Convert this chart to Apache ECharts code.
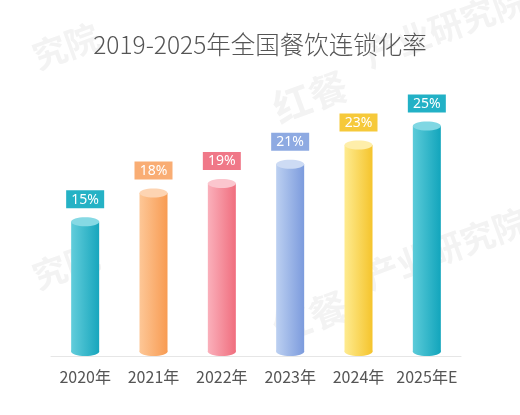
<!DOCTYPE html>
<html>
<head>
<meta charset="utf-8">
<script src="https://cdn.jsdelivr.net/npm/echarts@6/dist/echarts.min.js"></script>
<style>
  html, body { margin: 0; padding: 0; background: #fff; }
  #chart { width: 520px; height: 415px; }
</style>
</head>
<body>
<div id="chart"></div>
<script>
// 数据
var years = ['2020年', '2021年', '2022年', '2023年', '2024年', '2025年E'];
var rates = [15, 18, 19, 21, 23, 25];

// 每根柱子的配色：左侧、右侧、顶面、标签底色
var palette = [
    ['#62cddb', '#17a6bd', '#86d9e4', '#25b2c5'],
    ['#fdc797', '#f89b52', '#fdd4b2', '#f9ad74'],
    ['#fab0bb', '#f06e7e', '#fbc6ce', '#f07888'],
    ['#bcd0f1', '#7c9bdd', '#cddbf4', '#8eaae2'],
    ['#feeb90', '#f5c42c', '#feeeaa', '#f6c93a'],
    ['#5ccbd9', '#12a5bc', '#80d7e3', '#22b1c6']
];

var yMin = 1;

function renderCylinder(params, api) {
    var i = api.value(0);
    var v = api.value(1);
    var top = api.coord([i, v]);
    var base = api.coord([i, yMin]);
    var w = 28, rx = w / 2, ry = 4.5;
    var c = palette[i];
    var side = new echarts.graphic.LinearGradient(0, 0, 1, 0, [
        { offset: 0, color: c[0] },
        { offset: 1, color: c[1] }
    ]);
    var boxTop = top[1] - ry - 9 - 18;
    return {
        type: 'group',
        children: [
            { type: 'rect', shape: { x: top[0] - rx, y: top[1], width: w, height: base[1] - ry - top[1] }, style: { fill: side } },
            { type: 'ellipse', shape: { cx: top[0], cy: base[1] - ry, rx: rx, ry: ry }, style: { fill: side } },
            { type: 'ellipse', shape: { cx: top[0], cy: top[1], rx: rx, ry: ry }, style: { fill: c[2] } },
            { type: 'rect', shape: { x: top[0] - 19, y: boxTop, width: 38, height: 18 }, style: { fill: c[3] } },
            { type: 'text', style: { text: v + '%', x: top[0], y: boxTop + 9.5, align: 'center', verticalAlign: 'middle', fill: '#ffffff', fontSize: 14, fontFamily: 'Noto Sans' } }
        ]
    };
}

function mark(text, x, y, size) {
    return {
        type: 'text', x: x, y: y, rotation: 20 * Math.PI / 180, z: -10,
        style: { text: text, fill: '#f3f3f3', fontSize: size, fontWeight: 'bold', fontFamily: 'Noto Sans CJK SC' }
    };
}

var myChart = echarts.init(document.getElementById('chart'));
myChart.setOption({
    animation: false,
    title: {
        text: '2019-2025年全国餐饮连锁化率',
        left: 'center',
        top: 27,
        textStyle: { color: '#555', fontSize: 24.5, fontWeight: 300, fontFamily: 'Noto Sans CJK SC' }
    },
    graphic: [
        mark('究院', 28, 42, 34),
        mark('红餐', 268, 92, 38),
        mark('产业研究院', 360, 40, 34),
        mark('究院', 28, 262, 34),
        mark('红餐', 268, 312, 38),
        mark('产业研究院', 360, 262, 34)
    ],
    grid: { left: 51, right: 59, top: 78, bottom: 59 },
    xAxis: {
        type: 'category',
        data: years,
        axisLine: { lineStyle: { color: '#e6e6e6', width: 1 } },
        axisTick: { show: false },
        axisLabel: { interval: 0, color: '#555', fontSize: 16, margin: 13, fontFamily: 'Noto Sans CJK SC' }
    },
    yAxis: {
        type: 'value',
        min: yMin,
        max: 30,
        show: false,
        splitLine: { show: false }
    },
    series: [{
        type: 'custom',
        renderItem: renderCylinder,
        data: rates.map(function (r, i) { return [i, r]; })
    }]
});
</script>
</body>
</html>
